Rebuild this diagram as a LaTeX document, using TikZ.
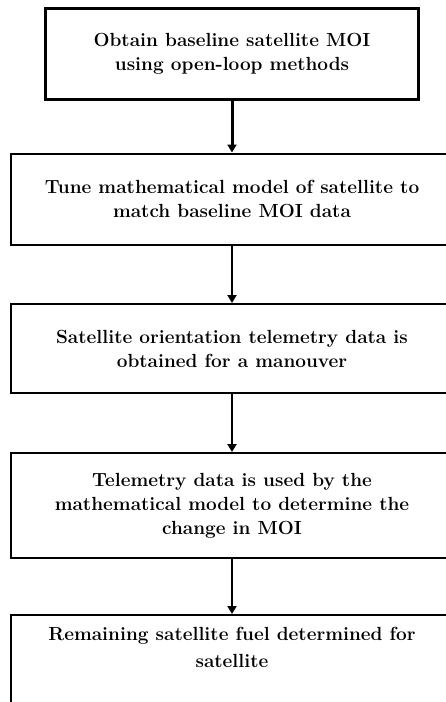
\documentclass[tikz,border=0pt]{standalone}
\usetikzlibrary{arrows.meta}
\usetikzlibrary{positioning}

\tikzset{
	stepbox/.style={draw=black, line width=2pt, align=center, inner sep=0pt, minimum width=442pt, minimum height=91pt, font=\fontsize{19}{24}\selectfont\bfseries},
	flow/.style={line width=2pt, -{Triangle[width=9pt,length=8pt]}}
}

\begin{document}
\begin{tikzpicture}[x=1pt,y=-1pt]

	%Frame
	\clip (0,0) rectangle (446,702);
	\useasboundingbox (0,0) rectangle (446,702);

	%Boxes
	\node[stepbox, line width=3pt, minimum width=373pt] (obtain) at (232,53.5) {Obtain baseline satellite MOI\\using open-loop methods};
	\node[stepbox] (tune) at (232,199) {Tune mathematical model of satellite to\\match baseline MOI data};
	\node[stepbox, minimum height=89pt] (orient) at (232,348.5) {Satellite orientation telemetry data is\\obtained for a manouver};
	\node[stepbox, minimum height=105pt] (change) at (232,505.5) {Telemetry data is used by the\\mathematical model to determine the\\change in MOI};
	\node[stepbox, anchor=north, minimum height=0pt, inner ysep=12pt, text depth=70pt] (fuel) at (232,614) {Remaining satellite fuel determined for\\[3pt]satellite};

	%Arrows
	\draw[flow, line width=3pt] (obtain) -- (tune);
	\draw[flow] (tune) -- (orient);
	\draw[flow] (orient) -- (change);
	\draw[flow] (change) -- (fuel);

\end{tikzpicture}
\end{document}
